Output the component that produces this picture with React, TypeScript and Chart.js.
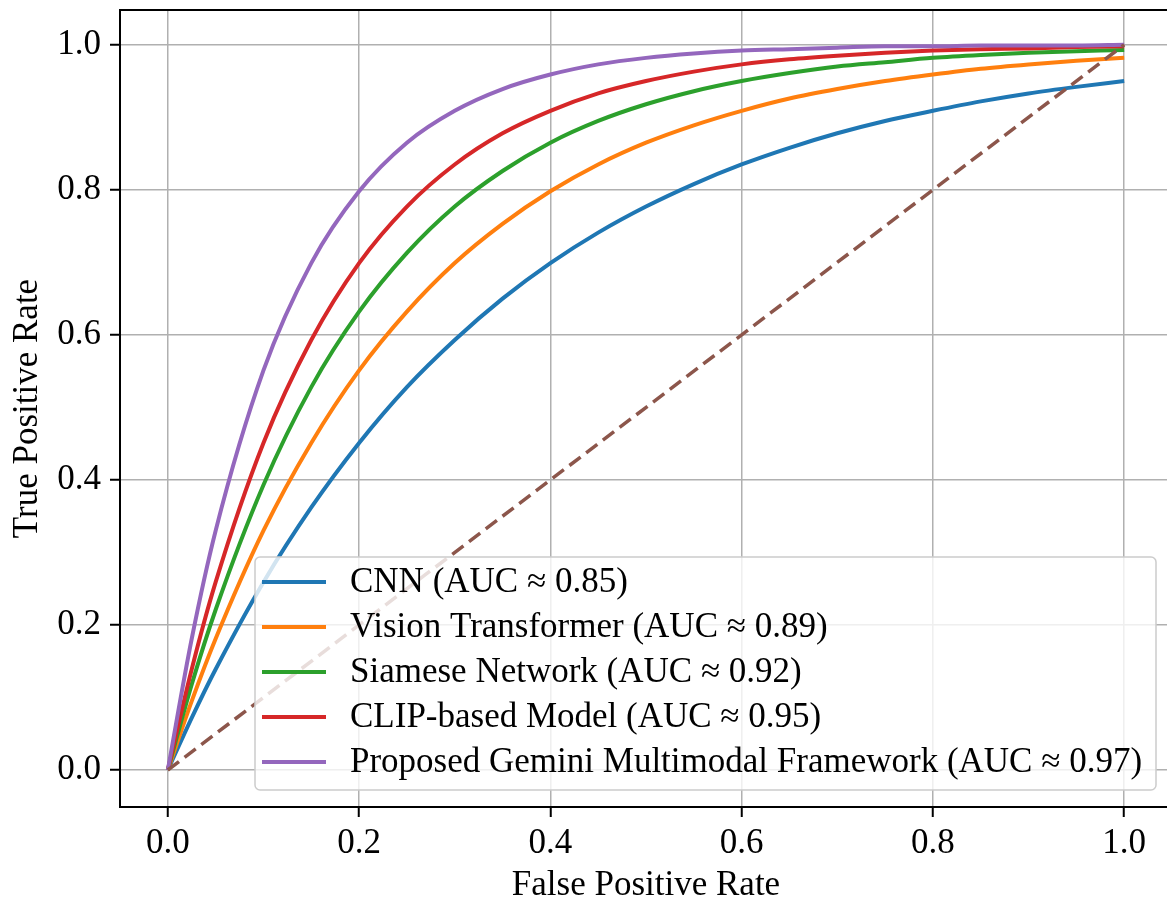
import React, { useEffect, useRef } from "react";
import { Chart, registerables } from "chart.js";

Chart.register(...registerables);

// ---- Data ----
const FPR = [0, 0.025, 0.05, 0.1, 0.15, 0.2, 0.25, 0.3, 0.35, 0.4, 0.45, 0.5, 0.55, 0.6, 0.65, 0.7, 0.75, 0.8, 0.85, 0.9, 0.95, 1.0];

const CNN_TPR = [0, 0.072, 0.139, 0.259, 0.362, 0.451, 0.528, 0.593, 0.65, 0.699, 0.741, 0.777, 0.808, 0.835, 0.858, 0.878, 0.895, 0.909, 0.922, 0.933, 0.942, 0.95];
const VIT_TPR = [0, 0.095, 0.181, 0.33, 0.451, 0.551, 0.632, 0.699, 0.753, 0.798, 0.835, 0.865, 0.889, 0.909, 0.926, 0.939, 0.95, 0.959, 0.967, 0.973, 0.978, 0.982];
const SIAMESE_TPR = [0, 0.118, 0.221, 0.393, 0.528, 0.632, 0.713, 0.777, 0.826, 0.865, 0.895, 0.918, 0.936, 0.95, 0.961, 0.97, 0.976, 0.982, 0.986, 0.989, 0.991, 0.993];
const CLIP_TPR = [0, 0.139, 0.259, 0.451, 0.593, 0.699, 0.777, 0.835, 0.878, 0.909, 0.933, 0.95, 0.963, 0.973, 0.98, 0.985, 0.989, 0.992, 0.994, 0.995, 0.997, 0.998];
const GEMINI_TPR = [0, 0.181, 0.33, 0.551, 0.699, 0.798, 0.865, 0.909, 0.939, 0.959, 0.973, 0.982, 0.988, 0.992, 0.994, 0.996, 0.998, 0.998, 0.999, 0.999, 0.999, 1.0];

const CHANCE_X = [0, 1];
const CHANCE_Y = [0, 1];

const SERIES_LABELS = [
  "CNN (AUC \u2248 0.85)",
  "Vision Transformer (AUC \u2248 0.89)",
  "Siamese Network (AUC \u2248 0.92)",
  "CLIP-based Model (AUC \u2248 0.95)",
  "Proposed Gemini Multimodal Framework (AUC \u2248 0.97)",
];
const SERIES_VALUES = [CNN_TPR, VIT_TPR, SIAMESE_TPR, CLIP_TPR, GEMINI_TPR];
const SERIES_COLORS = ["#1f77b4", "#ff7f0e", "#2ca02c", "#d62728", "#9467bd"];
const CHANCE_COLOR = "#8c564b";

const AXIS_TICKS = [0, 0.2, 0.4, 0.6, 0.8, 1.0];
const X_TITLE = "False Positive Rate";
const Y_TITLE = "True Positive Rate";

const FONT_FAMILY = "'Liberation Serif', 'Times New Roman', serif";

const framePlugin = {
  id: "frameSpines",
  afterDraw(chart: any) {
    const { ctx, chartArea } = chart;
    ctx.save();
    ctx.strokeStyle = "#000";
    ctx.lineWidth = 2;
    ctx.beginPath();
    ctx.moveTo(chartArea.left, chartArea.top);
    ctx.lineTo(chartArea.right, chartArea.top);
    ctx.lineTo(chartArea.right, chartArea.bottom);
    ctx.stroke();
    ctx.restore();
  },
};

const legendPlugin = {
  id: "insideLegend",
  afterDraw(chart: any) {
    const { ctx, chartArea } = chart;
    const datasets = chart.data.datasets.filter((d: any) => d.showInLegend);
    const left = chartArea.left + 135;
    const right = chartArea.right - 16;
    const bottom = chartArea.bottom - 17;
    const top = bottom - 233;
    const radius = 5;
    ctx.save();
    ctx.beginPath();
    ctx.moveTo(left + radius, top);
    ctx.lineTo(right - radius, top);
    ctx.arcTo(right, top, right, top + radius, radius);
    ctx.lineTo(right, bottom - radius);
    ctx.arcTo(right, bottom, right - radius, bottom, radius);
    ctx.lineTo(left + radius, bottom);
    ctx.arcTo(left, bottom, left, bottom - radius, radius);
    ctx.lineTo(left, top + radius);
    ctx.arcTo(left, top, left + radius, top, radius);
    ctx.closePath();
    ctx.fillStyle = "rgba(255,255,255,0.8)";
    ctx.fill();
    ctx.strokeStyle = "#cccccc";
    ctx.lineWidth = 1.5;
    ctx.stroke();

    ctx.font = `35px ${FONT_FAMILY}`;
    ctx.textBaseline = "middle";
    ctx.textAlign = "left";
    datasets.forEach((d: any, i: number) => {
      const y = top + 25 + i * 45;
      ctx.strokeStyle = d.borderColor;
      ctx.lineWidth = 4;
      ctx.beginPath();
      ctx.moveTo(left + 7, y);
      ctx.lineTo(left + 71, y);
      ctx.stroke();
      ctx.fillStyle = "#000";
      ctx.fillText(d.label, left + 95, y + 1);
    });
    ctx.restore();
  },
};

export default function App() {
  const canvasRef = useRef<HTMLCanvasElement | null>(null);

  useEffect(() => {
    if (!canvasRef.current) return;
    const n = SERIES_VALUES.length;
    const datasets: any[] = SERIES_VALUES.map((vals, i) => ({
      label: SERIES_LABELS[i],
      data: FPR.map((x, j) => ({ x, y: vals[j] })),
      borderColor: SERIES_COLORS[i],
      backgroundColor: SERIES_COLORS[i],
      borderWidth: 4,
      pointRadius: 0,
      fill: false,
      cubicInterpolationMode: "monotone",
      order: n - i,
      showInLegend: true,
    }));
    datasets.push({
      label: "Random",
      data: CHANCE_X.map((x, j) => ({ x, y: CHANCE_Y[j] })),
      borderColor: CHANCE_COLOR,
      backgroundColor: CHANCE_COLOR,
      borderWidth: 3.5,
      borderDash: [14, 7],
      pointRadius: 0,
      fill: false,
      order: 0,
      showInLegend: false,
    });

    const tickFont = { family: FONT_FAMILY, size: 35 };
    const chart = new Chart(canvasRef.current, {
      type: "line",
      data: { datasets },
      plugins: [framePlugin, legendPlugin],
      options: {
        animation: false,
        responsive: false,
        maintainAspectRatio: false,
        devicePixelRatio: 1,
        layout: { padding: { top: 10, right: 8, bottom: 0, left: 0 } },
        plugins: {
          legend: { display: false },
          tooltip: { enabled: false },
          title: { display: false },
        },
        scales: {
          x: {
            type: "linear",
            min: -0.05,
            max: 1.05,
            afterBuildTicks: (s: any) => {
              s.ticks = AXIS_TICKS.map((v) => ({ value: v }));
            },
            afterFit: (s: any) => {
              s.height = 96;
              s.paddingLeft = 0;
              s.paddingRight = 0;
            },
            ticks: {
              font: tickFont,
              color: "#000",
              padding: 6,
              maxRotation: 0,
              autoSkip: false,
              callback: (v: any) => Number(v).toFixed(1),
            },
            grid: {
              color: "#b0b0b0",
              lineWidth: 1.5,
              tickColor: "#000",
              tickWidth: 2,
              tickLength: 10,
            },
            border: { display: true, color: "#000", width: 2 },
            title: {
              display: true,
              text: X_TITLE,
              color: "#000",
              font: { family: FONT_FAMILY, size: 35, lineHeight: 1 },
              padding: { top: 0, bottom: 0 },
            },
          },
          y: {
            type: "linear",
            min: -0.051,
            max: 1.048,
            afterBuildTicks: (s: any) => {
              s.ticks = AXIS_TICKS.map((v) => ({ value: v }));
            },
            afterFit: (s: any) => {
              s.width = 120;
              s.paddingTop = 0;
              s.paddingBottom = 0;
            },
            ticks: {
              font: tickFont,
              color: "#000",
              padding: 9,
              autoSkip: false,
              callback: (v: any) => Number(v).toFixed(1),
            },
            grid: {
              color: "#b0b0b0",
              lineWidth: 1.5,
              tickColor: "#000",
              tickWidth: 2,
              tickLength: 10,
            },
            border: { display: true, color: "#000", width: 2 },
            title: {
              display: true,
              text: Y_TITLE,
              color: "#000",
              font: { family: FONT_FAMILY, size: 35, lineHeight: 1 },
              padding: { top: 10, bottom: 0 },
            },
          },
        },
      } as any,
    });
    return () => chart.destroy();
  }, []);

  return (
    <div
      style={{
        position: "absolute",
        left: 0,
        top: 0,
        width: 1167,
        height: 903,
        overflow: "hidden",
        background: "#fff",
      }}
    >
      <canvas ref={canvasRef} width={1180} height={903} style={{ display: "block", width: 1180, height: 903 }} />
    </div>
  );
}
